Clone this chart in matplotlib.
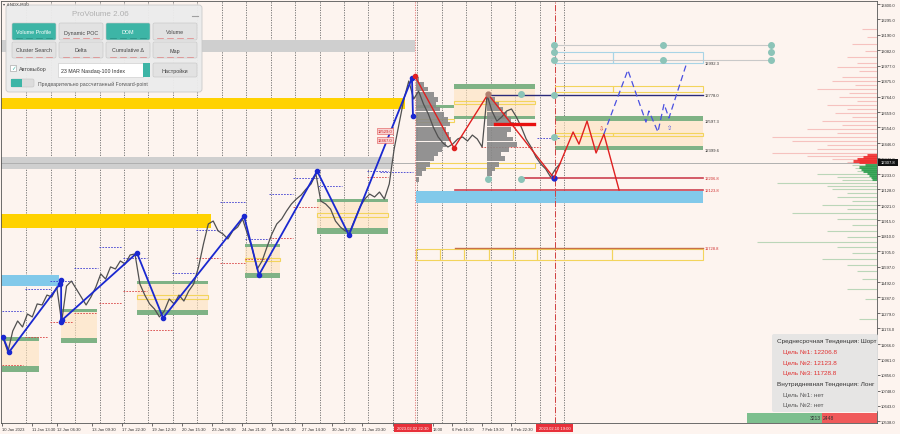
import numpy as np
import matplotlib
matplotlib.use("Agg")
import matplotlib.pyplot as plt
from matplotlib.patches import Rectangle, FancyBboxPatch

# close prices, one point every 0.2 trading day starting at day 0.05
close = [11115, 11012, 11156, 11225, 11184, 11273, 11253, 11342, 11335, 11403,
         11390, 11458, 11218, 11465, 11499, 11445, 11390, 11335, 11390, 11458,
         11548, 11513, 11596, 11582, 11637, 11616, 11678, 11685, 11479, 11403,
         11342, 11307, 11253, 11294, 11376, 11342, 11403, 11362, 11431, 11479,
         11596, 11753, 11891, 11911, 11843, 11822, 11788, 11843, 11870, 11925,
         11822, 11719, 11582, 11637, 11733, 11822, 11891, 11925, 11980, 12028,
         12062, 12090, 12131, 12165, 12234, 12048, 12028, 11993, 11911, 11870,
         11843, 11843, 11925, 12007, 12062, 12096, 12076, 12110, 12062, 12165,
         12405, 12577, 12748, 12872, 12748, 12803, 12714, 12645, 12556, 12488,
         12446, 12419, 12440, 12474, 12488, 12460, 12501, 12474, 12419, 12776,
         12666, 12597, 12625, 12666, 12680, 12625, 12556, 12474, 12419, 12350,
         12302, 12268, 12213, 12268, 12307.8]
t_start = 0.05
t_step = 0.2
last_price = 12307.8

# zigzag swings (trading day, price)
up_zz_t = [0.05, 0.30, 2.38, 2.43, 2.43, 2.47, 5.53, 6.60, 9.91, 10.52, 12.90, 14.20, 16.78, 16.82]
up_zz_p = [11115, 11012, 11479, 11506, 11218, 11232, 11692, 11246, 11945, 11541, 12254, 11815, 12892, 12632]
dn_zz_t = [16.90, 18.50, 19.89, 22.59]
dn_zz_p = [12906, 12412, 12782, 12206]
fc_red_t = [22.59, 23.37, 23.61, 23.94, 24.31, 24.63, 25.25]
fc_red_p = [12206, 12522, 12439, 12597, 12378, 12508, 12124]
fc_blue_t = [24.63, 25.61, 26.35, 26.47, 26.84, 27.09, 27.29, 28.03]
fc_blue_p = [12508, 12947, 12590, 12666, 12522, 12714, 12618, 13002]

# zones: start day, end day, low, high
gray_zones = [(-0.1, 16.9, 13071, 13153), (-0.1, 15.96, 12268, 12350)]
gold_zones = [(-0.1, 16.5, 12680, 12755), (-0.1, 8.56, 11863, 11959)]
blue_zones = [(-0.1, 2.34, 11465, 11541), (16.95, 28.68, 12035, 12117)]

# value areas: start, end, upper band hi/lo, lower band hi/lo
value_areas = [(0.01, 1.53, 11115, 11088, 10916, 10875),
               (2.43, 3.90, 11307, 11287, 11108, 11074),
               (5.53, 8.44, 11499, 11479, 11300, 11266),
               (9.95, 11.38, 11753, 11733, 11554, 11520),
               (12.90, 15.80, 12062, 12042, 11863, 11822),
               (18.50, 21.81, 12851, 12817, 12632, 12611),
               (22.63, 28.68, 12632, 12597.3, 12426, 12399.6)]
poc_boxes = [(5.53, 8.44, 11376, 11403), (9.95, 11.38, 11637, 11657),
             (12.90, 15.80, 11939, 11966), (18.50, 21.81, 12714, 12734),
             (16.95, 18.50, 12590, 12611), (22.63, 25.0, 12494, 12515),
             (25.0, 28.68, 12494, 12515), (22.63, 25.0, 12796, 12837),
             (25.0, 28.68, 12796, 12837), (17.0, 21.81, 12275, 12309),
             (16.95, 17.93, 11644, 11719), (17.93, 18.91, 11644, 11719),
             (18.91, 19.93, 11644, 11719), (19.93, 20.91, 11644, 11719),
             (20.91, 21.90, 11644, 11719), (21.90, 24.96, 11644, 11719),
             (24.96, 28.68, 11644, 11719)]
target_boxes = [(22.63, 25.0, 12992.3, 13071), (25.0, 28.68, 12992.3, 13071)]

# day POC marks: start, end, price
poc_blue = [(0.01, 0.87, 11294), (0.95, 1.98, 11445), (1.98, 2.92, 11499),
            (2.96, 3.94, 11589), (3.98, 4.92, 11733), (4.96, 5.94, 11657),
            (6.97, 7.95, 11554), (7.95, 8.93, 11849), (8.93, 9.95, 12042),
            (9.95, 10.93, 11788), (10.93, 11.91, 12096), (11.91, 12.94, 12206),
            (12.94, 13.92, 12151), (14.94, 15.80, 12254), (15.47, 16.82, 12247),
            (21.90, 22.83, 12481)]
poc_red = [(0.01, 0.87, 10923), (0.95, 1.89, 11115), (1.98, 2.92, 11218),
           (2.96, 3.90, 11280), (3.98, 4.92, 11348), (4.96, 5.94, 11431),
           (5.94, 6.97, 11163), (7.95, 8.93, 11657), (8.93, 9.95, 11623),
           (9.95, 10.93, 11650), (10.93, 11.91, 11794), (11.91, 12.94, 12007),
           (14.94, 15.80, 12213), (19.60, 22.00, 12419)]

# levels with labels
levels_p = [12992.3, 12778.0, 12597.3, 12399.6, 12206.8, 12123.8, 11728.8]
level_navy = (19.89, 28.68, 12778.0)
level_red = [(21.2, 28.68, 12206.8), (18.54, 28.68, 12123.8)]
level_brown = (18.54, 28.68, 11728.8)

# session volume profiles
p1_price = [12885, 12851, 12817, 12782, 12748, 12714, 12680, 12645, 12611, 12577, 12542,
            12508, 12474, 12439, 12405, 12371, 12337, 12302, 12268, 12234, 12199]
p1_vol = [3, 8, 12, 18, 22, 20, 24, 28, 32, 34, 30, 33, 35, 30, 26, 22, 18, 14, 10, 6, 3]
p2_price = [12782, 12748, 12714, 12680, 12645, 12611, 12577, 12542, 12508, 12474, 12439,
            12405, 12371, 12337, 12302, 12268, 12234, 12199]
p2_vol = [3, 8, 12, 16, 20, 24, 27, 24, 20, 26, 30, 22, 14, 18, 12, 8, 5, 2]

# market profile on the right edge
rp_price = [13228, 13174, 13126, 13078, 13036, 12995, 12968, 12940, 12899, 12872,
            12844, 12817, 12789, 12762, 12734, 12707, 12680, 12652, 12625, 12597,
            12570, 12542, 12515, 12487, 12460, 12433, 12405, 12378, 12357, 12337,
            12316, 12295, 12275, 12254, 12234, 12213, 12192, 12172, 12151, 12131,
            12103, 12076, 12048, 12021, 11993, 11966, 11925, 11884, 11843, 11801,
            11767, 11733, 11692, 11650, 11609, 11568, 11513, 11445, 11376, 11239, 11102]
rp_vol = [15, 10, 25, 12, 30, 20, 40, 18, 35, 45, 22, 60, 28, 38, 20, 50, 30, 42, 25, 55,
          35, 70, 40, 105, 85, 50, 60, 105, 70, 45, 30, 25, 22, 20, 60, 40, 35, 100, 50, 45,
          30, 40, 25, 55, 30, 85, 40, 25, 50, 30, 120, 40, 25, 55, 30, 20, 15, 30, 12, 18, 10]
hot_price = [12364, 12350, 12337, 12323, 12316, 12295, 12282, 12268, 12254, 12240, 12227, 12213, 12199]
hot_vol = [10, 14, 20, 24, 18, 12, 18, 16, 14, 10, 8, 6, 5]
vol_scale = 1 / 24.45

# anchors
teal_t = [22.59, 22.59, 22.59, 27.05, 27.05, 31.46, 31.46, 31.46, 22.59, 22.59, 21.24, 19.89, 21.24]
teal_p = [13118, 13071, 13016, 13118, 13016, 13118, 13071, 13016, 12776, 12488, 12782, 12199, 12199]

# axis labels
price_ticks = [13400.0, 13295.0, 13190.0, 13082.0, 12977.0, 12875.0, 12764.0, 12659.0, 12554.0,
               12446.0, 12341.0, 12233.0, 12128.0, 12021.0, 11915.0, 11810.0, 11705.0, 11597.0,
               11492.0, 11387.0, 11279.0, 11174.0, 11066.0, 10961.0, 10856.0, 10748.0, 10643.0, 10538.0]
date_pos = [0.01, 1.24, 2.26, 3.69, 4.92, 6.15, 7.37, 8.60, 9.83, 11.05, 12.28, 13.51, 14.74,
            16.0, 17.64, 18.42, 19.64, 20.83]
date_labels = ["10 Jan 2023", "11 Jan 13:30", "12 Jan 06:30", "13 Jan 09:30", "17 Jan 22:30",
               "19 Jan 12:30", "20 Jan 15:30", "23 Jan 08:30", "24 Jan 21:30", "26 Jan 01:30",
               "27 Jan 14:30", "30 Jan 17:30", "31 Jan 20:30", "2", "13:00", "6 Feb 16:30",
               "7 Feb 19:30", "8 Feb 22:30"]

buy_vol, sell_vol = 3213, 2448

info_lines = ["Среднесрочная Тенденция: Шорт", "Цель №1: 12206.8", "Цель №2: 12123.8",
              "Цель №3: 11728.8", "Внутридневная Тенденция: Лонг", "Цель №1: нет", "Цель №2: нет"]


def fill_zone(ax, t0, t1, lo, hi, color, alpha=1.0, z=1):
    ax.fill_between([t0, t1], lo, hi, color=color, alpha=alpha, lw=0, zorder=z)


def outline(ax, t0, t1, lo, hi, color, lw=0.8, z=2):
    ax.add_patch(Rectangle((t0, lo), t1 - t0, hi - lo, fill=False, ec=color, lw=lw, zorder=z))


if __name__ == "__main__":
    plt.rcParams['font.family'] = ['Liberation Sans', 'DejaVu Sans']
    bg = '#fdf4ef'

    fig = plt.figure(figsize=(9, 4.35), dpi=100)
    fig.patch.set_facecolor(bg)
    ax = fig.add_axes([1 / 900, 11 / 435, 876 / 900, 422 / 435])
    ax.set_facecolor(bg)
    ax.set_xlim(-0.03, 35.8)
    ax.set_ylim(10525, 13421)
    x_right = 35.8

    for d in range(1, 24):
        ax.axvline(d, color='#6a6a6a', lw=0.6, ls=(0, (1.5, 1.5)), zorder=0.5)

    for t0, t1, lo, hi in gray_zones:
        fill_zone(ax, t0, t1, lo, hi, '#cfcfcf')
    for t0, t1, lo, hi in gold_zones:
        fill_zone(ax, t0, t1, lo, hi, '#ffd200')
    for t0, t1, lo, hi in blue_zones:
        fill_zone(ax, t0, t1, lo, hi, '#82c9ea')

    for t0, t1, a_hi, a_lo, b_hi, b_lo in value_areas:
        fill_zone(ax, t0, t1, b_hi, a_lo, '#fde3bd', 0.6)
        fill_zone(ax, t0, t1, a_lo, a_hi, '#7fb285', z=1.5)
        fill_zone(ax, t0, t1, b_lo, b_hi, '#7fb285', z=1.5)
    fill_zone(ax, 16.95, 18.5, 12686, 12707, '#7fb285', z=1.5)
    for t0, t1, lo, hi in poc_boxes:
        outline(ax, t0, t1, lo, hi, '#f3d45c')
    for t0, t1, lo, hi in target_boxes:
        outline(ax, t0, t1, lo, hi, '#a8d4e6')
    for p in [13118, 13016]:
        ax.plot([22.59, 31.46], [p, p], color='#c9c9c9', lw=0.8, zorder=2)

    ax.axhline(last_price, color='#b0b0b0', lw=0.7, zorder=1.8)

    for t0, t1, p in poc_blue:
        ax.plot([t0, t1], [p, p], color='#3a3ad0', lw=0.6, ls=(0, (2, 1.5)), zorder=2)
    for t0, t1, p in poc_red:
        ax.plot([t0, t1], [p, p], color='#d84040', lw=0.6, ls=(0, (2, 1.5)), zorder=2)

    ax.plot(level_navy[:2], [level_navy[2]] * 2, color='#2a2a7a', lw=1.0, zorder=2.5)
    for t0, t1, p in level_red:
        ax.plot([t0, t1], [p, p], color='#cc4050', lw=1.2, zorder=2.5)
    ax.plot(level_brown[:2], [level_brown[2]] * 2, color='#c87048', lw=1.0, zorder=2.5)
    for p in levels_p:
        col = '#333333' if p > last_price else '#d03030'
        ax.text(28.76, p, f"{p:.1f}", fontsize=3, color=col, va='center', ha='left', zorder=6)

    ax.barh(p1_price, np.array(p1_vol) * vol_scale, left=16.95, height=34,
            color='#888888', alpha=0.9, lw=0, zorder=3)
    ax.barh(p2_price, np.array(p2_vol) * vol_scale, left=19.85, height=34,
            color='#888888', alpha=0.9, lw=0, zorder=3)

    rp_col = ['#ec7878' if p > last_price else '#5aaa6a' for p in rp_price]
    ax.hlines(rp_price, x_right - np.array(rp_vol) * vol_scale, x_right, colors=rp_col,
              lw=0.8, alpha=0.4, zorder=2)
    hot_col = ['#f03030' if p > last_price else '#30a050' for p in hot_price]
    ax.hlines(hot_price, x_right - np.array(hot_vol) * vol_scale, x_right, colors=hot_col,
              lw=2.2, alpha=0.9, zorder=2)

    ax.axvline(22.63, color='#d04040', lw=0.7, ls='-.', zorder=2)
    ax.axvline(16.9, color='#e07070', lw=0.6, ls=(0, (1.5, 1.5)), zorder=2)

    t = t_start + t_step * np.arange(len(close))
    ax.plot(t, close, color='#505050', lw=0.9, zorder=4)

    ax.plot(up_zz_t, up_zz_p, color='#1a28d0', lw=1.3, zorder=5)
    ax.plot(up_zz_t, up_zz_p, 'o', color='#1a28d0', ms=3, zorder=5)
    ax.plot(dn_zz_t, dn_zz_p, color='#e02020', lw=1.0, zorder=5)
    ax.plot(dn_zz_t[:2], dn_zz_p[:2], 'o', color='#e02020', ms=3, zorder=5)
    ax.plot(dn_zz_t[2], dn_zz_p[2], 'o', color='#b08070', ms=3.5, zorder=5)
    ax.plot(dn_zz_t[3], dn_zz_p[3], 'o', color='#1a28d0', ms=3.5, zorder=5)
    ax.plot(fc_red_t, fc_red_p, color='#e02020', lw=1.0, zorder=5)
    ax.plot(fc_blue_t, fc_blue_p, color='#4a50e0', lw=0.9, ls=(0, (5, 3)), zorder=5)
    ax.plot([20.18, 21.77], [12577, 12577], color='#e81010', lw=2.4, zorder=5)
    ax.plot(teal_t, teal_p, 'o', color='#8cc4b8', ms=4, zorder=5)
    ax.text(24.55, 12540, "⇩", fontsize=4.5, color='#e03030', ha='center', family=['DejaVu Sans'])
    ax.text(27.33, 12540, "⇧", fontsize=4.5, color='#4a50e0', ha='center', family=['DejaVu Sans'])
    for p in [12529, 12467]:
        ax.text(15.68, p, f"{p:.1f}", fontsize=3, color='#d02020', ha='center', va='center', zorder=6,
                bbox=dict(fc='#f8d4d4', ec='#e05050', lw=0.4, pad=0.6))

    ax.yaxis.tick_right()
    ax.set_yticks(price_ticks, [f"{v:.1f}" for v in price_ticks])
    ax.set_xticks(date_pos, date_labels)
    for lbl in ax.get_xticklabels():
        lbl.set_ha('left')
    ax.tick_params(axis='both', labelsize=3, length=2, width=0.5, pad=1, colors='#333333')
    for s in ax.spines.values():
        s.set_color('#555555')
        s.set_linewidth(0.6)

    # overlay panels in screen pixels
    ui = fig.add_axes([0, 0, 1, 1], zorder=10)
    ui.set_xlim(0, 900)
    ui.set_ylim(435, 0)
    ui.axis('off')
    ui.patch.set_alpha(0)

    ui.text(3, 5, "▾ #NDX,M30", fontsize=3, color='#444444', va='center', family=['DejaVu Sans'])
    ui.add_patch(FancyBboxPatch((6, 6), 196, 87, boxstyle='round,pad=0,rounding_size=3',
                                fc='#ececec', ec='#c8c8c8', lw=0.6, alpha=0.96))
    ui.text(100, 15, "ProVolume 2.06", fontsize=5.8, color='#b0b0b0', ha='center', va='center')
    ui.plot([192, 198], [17, 17], color='#a0a0a0', lw=0.8)
    btn_x = [12, 59, 106, 153]
    row1 = ["Volume Profile", "Dynamic POC", "DOM", "Volume"]
    row2 = ["Cluster Search", "Delta", "Cumulative Δ", "Map"]
    for i, x in enumerate(btn_x):
        on = i in (0, 2)
        ui.add_patch(FancyBboxPatch((x, 24), 44, 17, boxstyle='round,pad=0,rounding_size=1.5',
                                    fc='#3db5a6' if on else '#e2e2e2', ec='#c4c4c4', lw=0.4))
        ui.text(x + 22, 33, row1[i], fontsize=3.9, ha='center', va='center',
                color='white' if on else '#444444', family=['Liberation Sans', 'DejaVu Sans'])
        ui.add_patch(FancyBboxPatch((x, 43), 44, 16, boxstyle='round,pad=0,rounding_size=1.5',
                                    fc='#e2e2e2', ec='#c4c4c4', lw=0.4))
        ui.text(x + 22, 51, row2[i], fontsize=3.9, ha='center', va='center', color='#444444',
                family=['Liberation Sans', 'DejaVu Sans'])
        for k in range(4):
            ui.plot([x + 4 + k * 10, x + 10 + k * 10], [39, 39], color='#e08080' if not on else '#2a8a80', lw=0.5)
            ui.plot([x + 4 + k * 10, x + 10 + k * 10], [57.5, 57.5], color='#e08080', lw=0.5)
    ui.add_patch(Rectangle((10, 66), 6, 6, fc='white', ec='#999999', lw=0.4))
    ui.text(13, 69, "✓", fontsize=4, ha='center', va='center', color='#3db5a6', family=['DejaVu Sans'])
    ui.text(19, 70, "Автовыбор", fontsize=3.9, va='center', color='#444444')
    ui.add_patch(Rectangle((58, 64), 85, 14, fc='white', ec='#c8c8c8', lw=0.4))
    ui.text(61, 71, "23 MAR Nasdaq-100 Index", fontsize=3.8, va='center', color='#333333')
    ui.add_patch(Rectangle((143, 64), 7, 14, fc='#3db5a6', ec='none'))
    ui.add_patch(FancyBboxPatch((153, 64), 44, 14, boxstyle='round,pad=0,rounding_size=1.5',
                                fc='#e2e2e2', ec='#c4c4c4', lw=0.4))
    ui.text(175, 71, "Настройки", fontsize=3.9, ha='center', va='center', color='#444444')
    ui.add_patch(FancyBboxPatch((11, 80), 23, 8, boxstyle='round,pad=0,rounding_size=1.5',
                                fc='#dcdcdc', ec='#c4c4c4', lw=0.4))
    ui.add_patch(Rectangle((11, 80), 11, 8, fc='#3db5a6', ec='none'))
    ui.text(38, 84, "Предварительно рассчитанный Forward-point", fontsize=3.7, va='center', color='#555555')

    # info box
    ui.add_patch(FancyBboxPatch((772, 335), 106, 78, boxstyle='round,pad=0,rounding_size=2',
                                fc='#e4e4e4', ec='none', alpha=0.92))
    info_col = ['#333333', '#e03030', '#e03030', '#e03030', '#333333', '#555555', '#555555']
    info_x = [777, 783, 783, 783, 777, 783, 783]
    for i, line in enumerate(info_lines):
        ui.text(info_x[i], 342 + i * 10.6, line, fontsize=4.6, color=info_col[i], va='center')

    # buy / sell volume strip
    split = 822
    ui.add_patch(Rectangle((747, 414), split - 747, 9.5, fc='#7dbf8e', ec='none'))
    ui.add_patch(Rectangle((split, 414), 877 - split, 9.5, fc='#f05a5a', ec='none'))
    ui.text(split - 1, 418.8, str(buy_vol), fontsize=3.6, ha='right', va='center', color='#333333')
    ui.text(split + 1, 418.8, str(sell_vol), fontsize=3.6, ha='left', va='center', color='#333333')

    # current price and time markers
    ui.add_patch(Rectangle((878, 160), 20, 7, fc='#111111', ec='none'))
    ui.text(888, 163.5, f"{last_price:.1f}", fontsize=3, color='white', ha='center', va='center')
    for x0, x1, txt in [(394, 432, "2023.02.02 22:30"), (536, 573, "2023.02.10 19:00")]:
        ui.add_patch(Rectangle((x0, 425), x1 - x0, 7.5, fc='#e8303a', ec='none'))
        ui.text((x0 + x1) / 2, 428.8, txt, fontsize=3, color='white', ha='center', va='center')

    plt.savefig("out.png", dpi=100, facecolor=bg)
